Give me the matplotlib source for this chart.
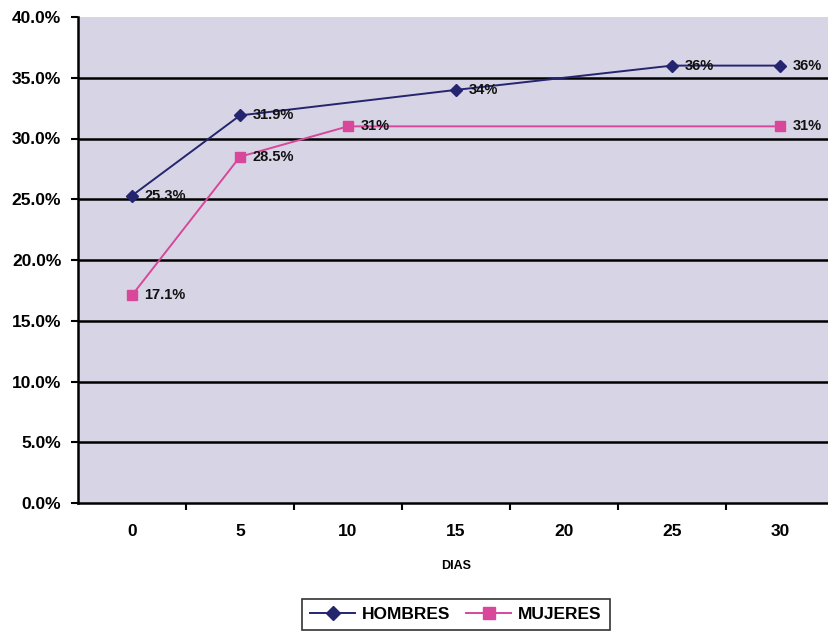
import matplotlib.pyplot as plt
from matplotlib.ticker import FuncFormatter

dias = ['0', '5', '10', '15', '20', '25', '30']
hombres = [25.3, 31.9, None, 34.0, None, 36.0, 36.0]
mujeres = [17.1, 28.5, 31.0, None, None, None, 31.0]
hombres_labels = ['25.3%', '31.9%', None, '34%', None, '36%', '36%']
mujeres_labels = ['17.1%', '28.5%', '31%', None, None, None, '31%']

plt.rcParams['font.family'] = ['Liberation Sans', 'DejaVu Sans']
plt.rcParams['font.weight'] = 'bold'

fig = plt.figure(figsize=(8.29, 6.32), dpi=100)
ax = fig.add_axes([78 / 829, 1 - 503 / 632, 756 / 829, 486 / 632])
ax.set_facecolor('#d7d5e5')


def draw(values, labels, color, marker, size, name):
    # Excel joins the points over the empty categories
    xs = [i for i, v in enumerate(values) if v is not None]
    ys = [values[i] for i in xs]
    ax.plot(xs, ys, color=color, marker=marker, markersize=size, lw=1.4,
            label=name, zorder=3)
    for x, y in zip(xs, ys):
        ax.annotate(labels[x], (x, y), xytext=(9, 0), textcoords='offset points',
                    va='center', ha='left', fontsize=10.5, fontweight='bold',
                    color='#111111', zorder=4)


draw(hombres, hombres_labels, '#25256f', 'D', 6.5, 'HOMBRES')
draw(mujeres, mujeres_labels, '#d8479a', 's', 7.5, 'MUJERES')

ax.set_ylim(0, 40)
ax.set_yticks(range(0, 41, 5))
ax.yaxis.set_major_formatter(FuncFormatter(lambda v, p: f'{v:.1f}%'))
for v in range(5, 40, 5):
    ax.axhline(v, color='black', lw=1.8, zorder=1)

ax.set_xlim(-0.5, len(dias) - 0.5)
ax.set_xticks(range(len(dias)))
ax.set_xticklabels(dias)
ax.set_xticks([i + 0.5 for i in range(len(dias) - 1)], minor=True)
ax.tick_params(axis='x', which='major', length=0, pad=15, labelsize=12.5)
ax.tick_params(axis='x', which='minor', length=5, width=1.5, direction='out')
ax.tick_params(axis='y', length=5, width=1.5, labelsize=12.5, pad=7)

for side in ['top', 'right']:
    ax.spines[side].set_visible(False)
for side in ['left', 'bottom']:
    ax.spines[side].set_linewidth(1.8)

ax.set_xlabel('DIAS', fontsize=9, fontweight='bold', labelpad=15)

leg = ax.legend(loc='upper center', bbox_to_anchor=(0.5, -0.18), ncol=2,
                frameon=True, fancybox=False, edgecolor='black', fontsize=12.5,
                handlelength=2.6, handletextpad=0.4, columnspacing=0.9,
                borderpad=0.45, markerscale=1.1)
leg.get_frame().set_linewidth(1.2)

fig.savefig('out.png', dpi=100)
